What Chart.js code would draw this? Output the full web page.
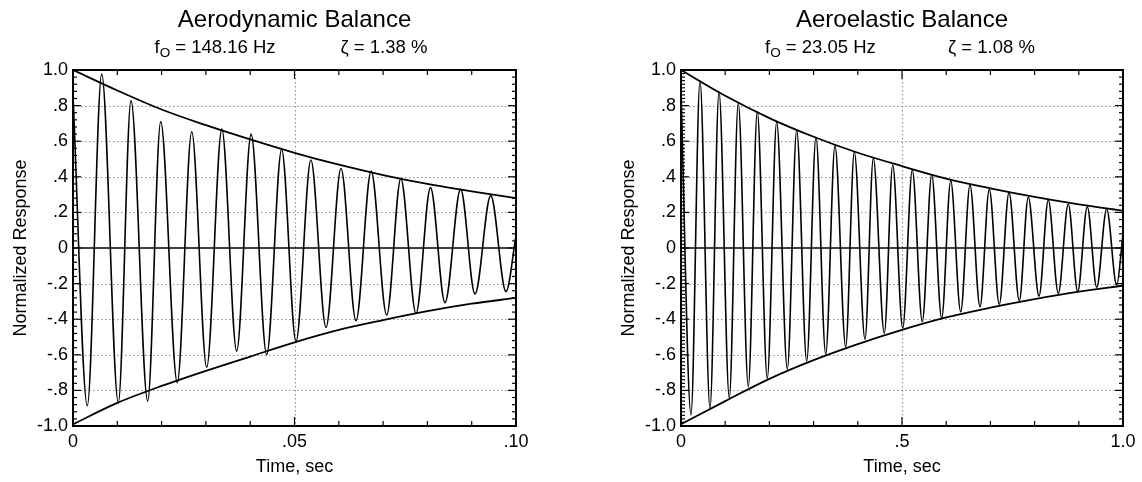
<!DOCTYPE html>
<html>
<head>
<meta charset="utf-8">
<script src="https://cdn.jsdelivr.net/npm/chart.js@4.4.1/dist/chart.umd.min.js"></script>
<style>
html,body{margin:0;padding:0;background:#fff;}
#wrap{position:relative;width:1142px;height:482px;overflow:hidden;}
canvas{position:absolute;top:0;}
</style>
</head>
<body>
<div id="wrap">
<canvas id="c1" width="571" height="482" style="left:0"></canvas>
<canvas id="c2" width="571" height="482" style="left:571px"></canvas>
</div>
<script>
// ---------- Text ----------
const leftTitle = 'Aerodynamic Balance';
const leftFreqText = ' = 148.16 Hz';
const leftDampText = '\u03B6 = 1.38 %';
const rightTitle = 'Aeroelastic Balance';
const rightFreqText = ' = 23.05 Hz';
const rightDampText = '\u03B6 = 1.08 %';
const freqSymbol = 'f';
const freqSub = 'O';
const xAxisTitle = 'Time, sec';
const yAxisTitle = 'Normalized Response';

// ---------- Tick labels ----------
const yTickVals = [-1, -0.8, -0.6, -0.4, -0.2, 0, 0.2, 0.4, 0.6, 0.8, 1];
const yTickLabels = ['-1.0', '-.8', '-.6', '-.4', '-.2', '0', '.2', '.4', '.6', '.8', '1.0'];
const leftXTickVals = [0, 0.05, 0.10];
const leftXTickLabels = ['0', '.05', '.10'];
const rightXTickVals = [0, 0.5, 1.0];
const rightXTickLabels = ['0', '.5', '1.0'];

// ---------- Aerodynamic balance (left) ----------
const leftTimes = [0, 0.00323, 0.00648, 0.01023, 0.01309, 0.01686, 0.0198, 0.02354, 0.0268, 0.03018,
  0.0336, 0.03695, 0.0402, 0.04372, 0.0471, 0.05034, 0.0537, 0.05711, 0.0605, 0.06388,
  0.0673, 0.07081, 0.0740, 0.07743, 0.0807, 0.08397, 0.0875, 0.09074, 0.0943, 0.09774, 0.1];
const leftResponse = [0.86, -0.886, 0.977, -0.869, 0.828, -0.86, 0.71, -0.757, 0.653, -0.67,
  0.668, -0.579, 0.64, -0.60, 0.554, -0.526, 0.494, -0.446, 0.447, -0.408,
  0.432, -0.376, 0.39, -0.367, 0.339, -0.307, 0.331, -0.258, 0.294, -0.245, 0.07];
const leftEnvTimes = [0, 0.01, 0.02, 0.03, 0.04, 0.05, 0.06, 0.07, 0.08, 0.09, 0.10];
const leftEnvUpper = [1.0, 0.885, 0.778, 0.69, 0.61, 0.535, 0.468, 0.41, 0.36, 0.318, 0.28];
const leftEnvLower = [-0.99, -0.87, -0.775, -0.69, -0.61, -0.53, -0.46, -0.405, -0.355, -0.313, -0.28];

// ---------- Aeroelastic balance (right) ----------
const rightTimes = [0, 0.0226, 0.043, 0.0656, 0.086, 0.1093, 0.1296, 0.1523, 0.1726, 0.1952,
  0.2165, 0.2405, 0.2618, 0.2844, 0.3054, 0.3274, 0.3484, 0.3726, 0.3921, 0.4163,
  0.4351, 0.46, 0.479, 0.5016, 0.5233, 0.5459, 0.5672, 0.5898, 0.6102, 0.6328,
  0.6538, 0.6765, 0.6975, 0.7201, 0.7421, 0.7654, 0.7857, 0.81, 0.831, 0.8536,
  0.8762, 0.8975, 0.9192, 0.9405, 0.9631, 0.9857, 1.0];
const rightResponse = [0.88, -0.938, 0.94, -0.90, 0.878, -0.841, 0.816, -0.779, 0.766, -0.732,
  0.71, -0.68, 0.663, -0.635, 0.622, -0.596, 0.575, -0.554, 0.541, -0.513,
  0.504, -0.479, 0.466, -0.451, 0.438, -0.414, 0.41, -0.395, 0.378, -0.358,
  0.354, -0.33, 0.33, -0.316, 0.311, -0.296, 0.285, -0.27, 0.27, -0.255,
  0.247, -0.245, 0.232, -0.221, 0.219, -0.208, 0.08];
const rightEnvTimes = [0, 0.1, 0.2, 0.3, 0.4, 0.5, 0.6, 0.7, 0.8, 0.9, 1.0];
const rightEnvUpper = [1.0, 0.855, 0.73, 0.625, 0.535, 0.46, 0.39, 0.335, 0.287, 0.245, 0.21];
const rightEnvLower = [-0.99, -0.86, -0.735, -0.63, -0.54, -0.46, -0.39, -0.335, -0.287, -0.245, -0.212];

// ---------- Drawing helpers ----------
const FONT = '"Liberation Sans", Arial, Helvetica, sans-serif';
const pts = (xs, ys) => xs.map((x, i) => ({x: x, y: ys[i]}));

const framePlugin = {
  id: 'framePlugin',
  beforeDatasetsDraw(chart, args, o) {
    const {ctx, chartArea: a, scales: {x, y}} = chart;
    ctx.save();
    ctx.strokeStyle = '#8c8c8c';
    ctx.lineWidth = 1;
    ctx.setLineDash([1.5, 2.5]);
    o.yGrid.forEach(v => {
      const py = Math.round(y.getPixelForValue(v)) + 0.5;
      ctx.beginPath(); ctx.moveTo(a.left, py); ctx.lineTo(a.right, py); ctx.stroke();
    });
    o.xGrid.forEach(v => {
      const px = Math.round(x.getPixelForValue(v)) + 0.5;
      ctx.beginPath(); ctx.moveTo(px, a.top); ctx.lineTo(px, a.bottom); ctx.stroke();
    });
    ctx.setLineDash([]);
    ctx.strokeStyle = '#000';
    ctx.lineWidth = 1.5;
    const pz = y.getPixelForValue(0);
    ctx.beginPath(); ctx.moveTo(a.left, pz); ctx.lineTo(a.right, pz); ctx.stroke();
    ctx.restore();
  },
  afterDatasetsDraw(chart, args, o) {
    const {ctx, chartArea: a, scales: {x, y}} = chart;
    ctx.save();
    ctx.strokeStyle = '#000';
    ctx.lineWidth = 1.2;
    const nx = Math.round((x.max - x.min) / o.xMinor);
    for (let k = 0; k <= nx; k++) {
      const v = x.min + k * o.xMinor;
      const px = x.getPixelForValue(v);
      const major = Math.abs(v / o.xMajor - Math.round(v / o.xMajor)) < 1e-6;
      const len = major ? 9 : 5;
      ctx.beginPath();
      ctx.moveTo(px, a.top); ctx.lineTo(px, a.top + len);
      ctx.moveTo(px, a.bottom); ctx.lineTo(px, a.bottom - len);
      ctx.stroke();
    }
    const drawY = (step, side) => {
      const n = Math.round((y.max - y.min) / step);
      for (let k = 0; k <= n; k++) {
        const v = y.min + k * step;
        const py = y.getPixelForValue(v);
        const major = Math.abs(v / 0.2 - Math.round(v / 0.2)) < 1e-6;
        const len = major ? 8 : 4;
        ctx.beginPath();
        if (side === 'left') { ctx.moveTo(a.left, py); ctx.lineTo(a.left + len, py); }
        else { ctx.moveTo(a.right, py); ctx.lineTo(a.right - len, py); }
        ctx.stroke();
      }
    };
    drawY(o.yMinorLeft, 'left');
    drawY(o.yMinorRight, 'right');
    ctx.lineWidth = 2;
    ctx.strokeRect(a.left, a.top, a.right - a.left, a.bottom - a.top);
    ctx.restore();
  },
  afterDraw(chart, args, o) {
    const {ctx, chartArea: a} = chart;
    const cx = (a.left + a.right) / 2;
    ctx.save();
    ctx.fillStyle = '#000';
    ctx.textBaseline = 'alphabetic';
    ctx.textAlign = 'center';
    ctx.font = '24px ' + FONT;
    ctx.fillText(o.title, cx, 27);
    ctx.textAlign = 'left';
    let x0 = cx + o.freqOffset;
    ctx.font = '18.5px ' + FONT;
    ctx.fillText(freqSymbol, x0, 53);
    x0 += ctx.measureText(freqSymbol).width;
    ctx.font = '13.5px ' + FONT;
    ctx.fillText(freqSub, x0, 57);
    x0 += ctx.measureText(freqSub).width;
    ctx.font = '18.5px ' + FONT;
    ctx.fillText(o.freqText, x0, 53);
    ctx.fillText(o.dampText, cx + o.dampOffset, 53);
    ctx.restore();
  }
};

function makeChart(id, cfg) {
  const tickFont = {family: FONT, size: 18};
  return new Chart(document.getElementById(id), {
    type: 'line',
    data: {
      datasets: [
        {data: pts(cfg.times, cfg.resp), borderColor: '#000', borderWidth: 1.6, pointRadius: 0,
         cubicInterpolationMode: 'monotone', fill: false},
        {data: pts(cfg.envT, cfg.envU), borderColor: '#000', borderWidth: 1.8, pointRadius: 0,
         cubicInterpolationMode: 'monotone', fill: false},
        {data: pts(cfg.envT, cfg.envL), borderColor: '#000', borderWidth: 1.8, pointRadius: 0,
         cubicInterpolationMode: 'monotone', fill: false}
      ]
    },
    options: {
      responsive: false,
      animation: false,
      devicePixelRatio: 1,
      layout: {padding: {left: cfg.padLeft, right: cfg.padRight, top: 70, bottom: 0}},
      plugins: {
        legend: {display: false},
        tooltip: {enabled: false},
        title: {display: false},
        framePlugin: {
          yGrid: [-0.8, -0.6, -0.4, -0.2, 0.2, 0.4, 0.6, 0.8],
          xGrid: [cfg.xMid],
          xMinor: cfg.xMinor, xMajor: cfg.xMid,
          yMinorLeft: cfg.yMinorLeft, yMinorRight: 0.04,
          title: cfg.title, freqText: cfg.freqText, dampText: cfg.dampText,
          freqOffset: cfg.freqOffset, dampOffset: cfg.dampOffset
        }
      },
      scales: {
        x: {
          type: 'linear', min: 0, max: cfg.xMax,
          afterBuildTicks: s => { s.ticks = cfg.xTickVals.map(v => ({value: v})); },
          afterFit: s => { s.height = 56; },
          ticks: {font: tickFont, color: '#000', padding: 5, maxRotation: 0, autoSkip: false,
                  callback: (v, i) => cfg.xTickLabels[i]},
          grid: {display: false, drawTicks: false},
          border: {display: false},
          title: {display: true, text: xAxisTitle, color: '#000', font: tickFont,
                  padding: {top: 0, bottom: 4}}
        },
        y: {
          type: 'linear', min: -1, max: 1,
          afterBuildTicks: s => { s.ticks = yTickVals.map(v => ({value: v})); },
          afterFit: s => { s.width = 73; },
          ticks: {font: tickFont, color: '#000', padding: 5, autoSkip: false,
                  callback: (v, i) => yTickLabels[i]},
          grid: {display: false, drawTicks: false},
          border: {display: false},
          title: {display: true, text: yAxisTitle, color: '#000', font: tickFont,
                  padding: {top: 10, bottom: 0}}
        }
      }
    },
    plugins: [framePlugin]
  });
}

makeChart('c1', {
  times: leftTimes, resp: leftResponse,
  envT: leftEnvTimes, envU: leftEnvUpper, envL: leftEnvLower,
  xMax: 0.10, xMid: 0.05, xMinor: 0.01,
  xTickVals: leftXTickVals, xTickLabels: leftXTickLabels,
  yMinorLeft: 0.04,
  padLeft: 0, padRight: 55,
  title: leftTitle, freqText: leftFreqText, dampText: leftDampText,
  freqOffset: -140, dampOffset: 46
});
makeChart('c2', {
  times: rightTimes, resp: rightResponse,
  envT: rightEnvTimes, envU: rightEnvUpper, envL: rightEnvLower,
  xMax: 1.0, xMid: 0.5, xMinor: 0.1,
  xTickVals: rightXTickVals, xTickLabels: rightXTickLabels,
  yMinorLeft: 0.02,
  padLeft: 37, padRight: 19,
  title: rightTitle, freqText: rightFreqText, dampText: rightDampText,
  freqOffset: -137, dampOffset: 46
});
</script>
</body>
</html>
